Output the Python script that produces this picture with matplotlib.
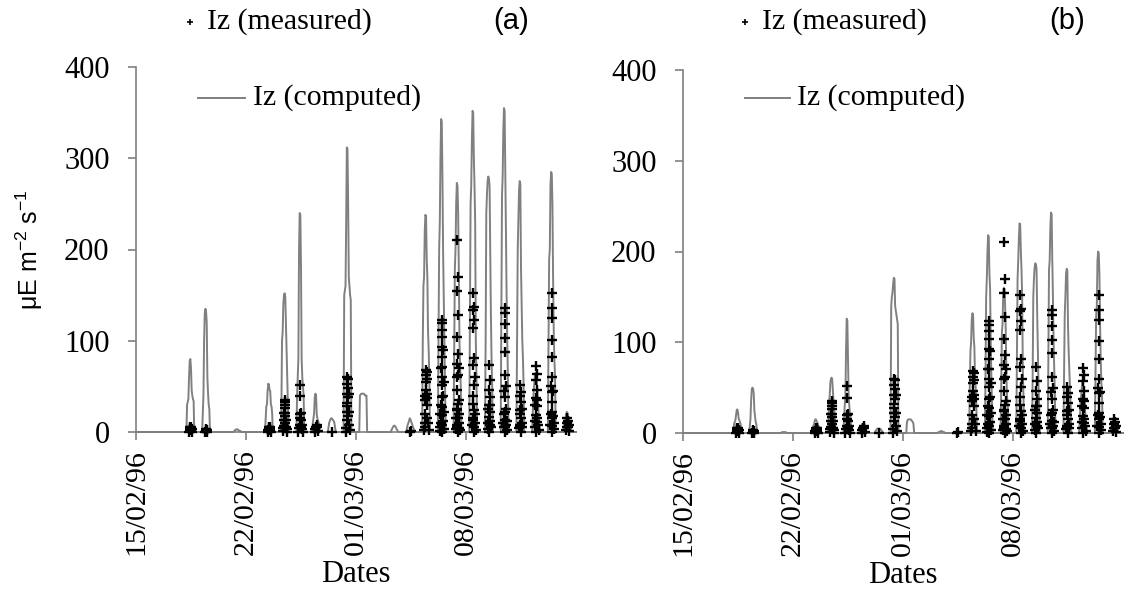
import matplotlib
matplotlib.use("Agg")
import matplotlib.pyplot as plt
from matplotlib.lines import Line2D

# ---------------- data ----------------
# x axis: days since 15/02/96 ; tick labels as printed
tick_days = [0, 7, 14, 21]
tick_labels = ["15/02/96", "22/02/96", "01/03/96", "08/03/96"]
y_ticks = [0, 100, 200, 300, 400]

# computed Iz: hourly values (05h..17h) for each day with daylight signal
comp_hours = [5, 6, 7, 8, 9, 10, 11, 12, 13, 14, 15, 16, 17]
comp_days = [3, 4, 6, 8, 9, 10, 11, 12, 13, 14, 16, 17, 18, 19, 20, 21, 22, 23, 24, 25, 26, 27]
comp_a = [
    [0, 30, 33, 36, 60, 78, 80, 70, 46, 40, 36, 34, 0],
    [0, 20, 40, 100, 130, 135, 132, 120, 60, 43, 30, 25, 0],
    [0, 1, 2, 2, 3, 3, 3, 2, 2, 1, 1, 1, 0],
    [0, 15, 28, 30, 45, 53, 52, 46, 45, 30, 28, 20, 0],
    [0, 20, 100, 110, 140, 150, 152, 148, 120, 90, 60, 30, 0],
    [0, 40, 60, 80, 200, 240, 238, 180, 80, 60, 50, 40, 0],
    [0, 10, 15, 20, 38, 42, 40, 20, 15, 12, 10, 8, 0],
    [0, 5, 10, 12, 14, 15, 15, 14, 13, 12, 10, 5, 0],
    [0, 150, 155, 160, 230, 312, 310, 250, 170, 160, 150, 145, 0],
    [0, 40, 41, 42, 42, 42, 42, 42, 41, 40, 40, 40, 0],
    [0, 2, 3, 5, 6, 7, 7, 6, 5, 3, 2, 1, 0],
    [0, 5, 8, 10, 12, 15, 14, 12, 10, 8, 5, 4, 0],
    [0, 100, 160, 170, 220, 238, 236, 190, 170, 110, 90, 60, 0],
    [0, 100, 200, 230, 300, 343, 340, 280, 200, 150, 100, 50, 0],
    [0, 90, 180, 200, 250, 273, 270, 240, 180, 100, 70, 50, 0],
    [0, 120, 250, 270, 320, 352, 350, 300, 270, 230, 100, 60, 0],
    [0, 100, 240, 260, 275, 280, 278, 270, 200, 130, 80, 50, 0],
    [0, 120, 260, 280, 330, 355, 352, 280, 220, 150, 100, 60, 0],
    [0, 100, 200, 230, 265, 275, 272, 180, 140, 100, 80, 50, 0],
    [0, 20, 40, 50, 60, 65, 62, 55, 45, 30, 20, 10, 0],
    [0, 100, 190, 200, 270, 285, 283, 250, 170, 110, 80, 60, 0],
    [0, 8, 12, 16, 20, 22, 21, 18, 14, 10, 8, 5, 0],
]
comp_b = [
    [0, 10, 12, 14, 20, 25, 26, 23, 16, 14, 12, 10, 0],
    [0, 8, 15, 35, 48, 50, 49, 44, 25, 18, 12, 10, 0],
    [0, 0, 1, 1, 1, 1, 1, 1, 1, 0, 0, 0, 0],
    [0, 4, 8, 9, 13, 15, 15, 13, 12, 9, 8, 6, 0],
    [0, 8, 35, 40, 55, 60, 61, 58, 45, 35, 25, 12, 0],
    [0, 15, 30, 40, 90, 126, 124, 80, 40, 30, 20, 15, 0],
    [0, 3, 4, 5, 9, 10, 10, 6, 4, 3, 3, 2, 0],
    [0, 2, 3, 4, 5, 5, 5, 5, 4, 4, 3, 2, 0],
    [0, 140, 150, 155, 165, 171, 170, 140, 135, 130, 125, 120, 0],
    [0, 12, 14, 15, 15, 15, 15, 15, 14, 13, 12, 10, 0],
    [0, 1, 1, 1, 2, 2, 2, 2, 1, 1, 1, 0, 0],
    [0, 0, 0, 0, 0.5, 0.5, 0.5, 0.5, 0, 0, 0, 0, 0],
    [0, 50, 90, 100, 125, 132, 130, 105, 95, 60, 50, 30, 0],
    [0, 60, 150, 170, 200, 218, 216, 175, 160, 100, 60, 30, 0],
    [0, 50, 110, 120, 150, 160, 158, 140, 110, 60, 40, 30, 0],
    [0, 80, 170, 190, 215, 231, 229, 200, 180, 150, 70, 40, 0],
    [0, 60, 150, 170, 182, 187, 186, 180, 130, 90, 50, 30, 0],
    [0, 80, 180, 190, 225, 243, 241, 190, 150, 100, 70, 40, 0],
    [0, 60, 130, 150, 175, 181, 179, 120, 90, 70, 50, 30, 0],
    [0, 15, 30, 40, 50, 55, 53, 46, 38, 25, 16, 8, 0],
    [0, 70, 130, 140, 190, 200, 198, 175, 120, 80, 55, 40, 0],
    [0, 6, 9, 12, 14, 16, 15, 13, 10, 7, 6, 4, 0],
]

# measured Iz (same in both panels): per day, hours and values
meas_days = [3, 4, 8, 9, 10, 11, 12, 13, 17, 18, 19, 20, 21, 22, 23, 24, 25, 26, 27]
meas_hours = [
    [9, 10, 10, 11, 11, 12, 12, 13, 14],
    [10, 11, 11, 12, 13],
    [9, 10, 11, 11, 12, 12, 13, 14],
    [8, 9, 10, 10, 10, 11, 11, 11, 11, 12, 12, 12, 13, 13, 14, 15],
    [8, 9, 10, 10, 11, 11, 11, 12, 12, 12, 13, 14, 15],
    [9, 10, 11, 12, 13, 14],
    [11],
    [8, 9, 10, 10, 10, 11, 11, 11, 11, 12, 12, 12, 12, 13, 13, 14, 15],
    [10, 12],
    [8, 9, 9, 10, 10, 10, 11, 11, 11, 11, 12, 12, 12, 12, 13, 13, 14, 15],
    [8, 9, 9, 10, 10, 10, 11, 11, 11, 11, 11, 11, 11, 12, 12, 12, 12, 12, 12, 12, 13, 13, 13, 14, 14, 15],
    [9, 9, 10, 10, 10, 11, 11, 11, 11, 11, 11, 11, 12, 12, 12, 12, 12, 12, 12, 13, 13, 13, 14, 14, 15],
    [9, 10, 10, 11, 11, 11, 11, 11, 11, 12, 12, 12, 12, 12, 12, 12, 13, 13, 14, 15],
    [9, 10, 10, 11, 11, 11, 11, 11, 12, 12, 12, 12, 13, 13, 14],
    [9, 10, 10, 10, 11, 11, 11, 11, 11, 11, 12, 12, 12, 12, 12, 13, 13, 13, 14, 15],
    [9, 10, 10, 11, 11, 11, 11, 12, 12, 12, 12, 13, 13, 14],
    [9, 10, 10, 11, 11, 11, 11, 11, 12, 12, 12, 12, 13, 13, 14, 15],
    [9, 10, 10, 11, 11, 11, 11, 11, 11, 12, 12, 12, 12, 12, 12, 13, 13, 14, 15],
    [9, 10, 11, 11, 12, 12, 13, 14],
]
meas_vals = [
    [0, 2, 4, 5, 3, 5, 2, 3, 0],
    [0, 2, 3, 2, 0],
    [0, 2, 4, 5, 3, 5, 2, 0],
    [1, 4, 7, 13, 21, 26, 33, 35, 18, 30, 21, 10, 13, 6, 3, 0],
    [0, 4, 8, 15, 39, 52, 20, 13, 21, 6, 8, 3, 0],
    [0, 3, 6, 8, 5, 1],
    [0],
    [0, 4, 13, 22, 32, 42, 53, 60, 28, 58, 48, 38, 18, 42, 8, 22, 2],
    [0, 1],
    [2, 5, 10, 20, 35, 40, 46, 55, 62, 68, 66, 58, 42, 30, 37, 15, 10, 2],
    [1, 5, 20, 10, 30, 70, 123, 112, 93, 71, 51, 27, 8, 119, 104, 82, 60, 38, 19, 0, 90, 40, 12, 55, 22, 3],
    [15, 3, 60, 25, 5, 210, 154, 104, 75, 46, 24, 8, 170, 128, 86, 62, 31, 15, 0, 70, 35, 10, 20, 4, 2],
    [8, 40, 15, 152, 134, 114, 73, 31, 13, 137, 123, 81, 51, 24, 5, 0, 60, 20, 10, 2],
    [3, 25, 10, 73, 46, 30, 16, 0, 57, 38, 22, 8, 30, 12, 5],
    [10, 45, 20, 6, 136, 118, 88, 38, 13, 0, 130, 103, 62, 22, 5, 50, 25, 8, 12, 2],
    [4, 20, 8, 51, 40, 24, 7, 44, 33, 15, 0, 25, 10, 5],
    [6, 30, 12, 72, 57, 37, 19, 0, 64, 46, 28, 11, 35, 15, 8, 2],
    [8, 50, 20, 152, 125, 82, 44, 22, 7, 136, 101, 60, 33, 15, 0, 45, 18, 10, 3],
    [2, 6, 10, 15, 12, 5, 8, 1],
]

# ---------------- styling ----------------
W, H = 1129, 610
SERIF = ["Liberation Serif", "DejaVu Serif"]
SANS = ["Liberation Sans", "DejaVu Sans"]
GRAY = "#808080"

fig = plt.figure(figsize=(W / 100, H / 100), dpi=100)


def build_comp(vals):
    t, y = [0.0], [0.0]
    for d, vs in zip(comp_days, vals):
        for h, v in zip(comp_hours, vs):
            t.append(d + h / 24.0)
            y.append(v)
    t.append(28.0)
    y.append(0.0)
    return t, y


mt, mv = [], []
for d, hs, vs in zip(meas_days, meas_hours, meas_vals):
    for h, v in zip(hs, vs):
        mt.append(d + h / 24.0)
        mv.append(v)

panels = [
    dict(rect=[136 / W, 1 - 432 / H, 440 / W, 365 / H], comp=comp_a, tag="(a)",
         plus_x=190, text_x=207, line_x=(198, 245), ctext_x=253, tag_x=511, ylabel=True),
    dict(rect=[683 / W, 1 - 433 / H, 440 / W, 363 / H], comp=comp_b, tag="(b)",
         plus_x=745, text_x=762, line_x=(745, 790), ctext_x=797, tag_x=1067, ylabel=False),
]

for p in panels:
    ax = fig.add_axes(p["rect"])
    t, y = build_comp(p["comp"])
    ax.plot(t, y, color=GRAY, lw=1.4, zorder=2, clip_on=False)
    ax.plot(mt, mv, linestyle="none", marker="+", color="black",
            markersize=7, mew=1.7, zorder=3, clip_on=False)
    ax.set_xlim(0, 28)
    ax.set_ylim(0, 400)
    for s in ["top", "right"]:
        ax.spines[s].set_visible(False)
    for s in ["left", "bottom"]:
        ax.spines[s].set_color(GRAY)
        ax.spines[s].set_linewidth(1.2)
    ax.set_yticks(y_ticks)
    ax.set_yticklabels([str(v) for v in y_ticks], fontfamily=SERIF, fontsize=22)
    ax.set_xticks(tick_days)
    ax.set_xticklabels(tick_labels, rotation=90, fontfamily=SERIF, fontsize=21.5)
    ax.tick_params(axis="both", direction="out", length=6, width=1.2, color=GRAY)
    ax.tick_params(axis="y", pad=13)
    ax.tick_params(axis="x", pad=6)
    ax.set_xlabel("Dates", fontfamily=SERIF, fontsize=22, labelpad=4)
    if p["ylabel"]:
        ax.set_ylabel("μE m$^{\\mathregular{-2}}$ s$^{\\mathregular{-1}}$",
                      fontfamily=SANS, fontsize=18, labelpad=14)

    # legend-like annotations
    fig.add_artist(Line2D([p["plus_x"] / W], [1 - 22 / H], marker="+", color="black",
                          markersize=5, mew=1.2, linestyle="none"))
    fig.text(p["text_x"] / W, 1 - 22 / H, "Iz (measured)", fontfamily=SERIF,
             fontsize=21.5, va="center", ha="left")
    fig.add_artist(Line2D([p["line_x"][0] / W, p["line_x"][1] / W], [1 - 98 / H, 1 - 98 / H],
                          color=GRAY, lw=1.4))
    fig.text(p["ctext_x"] / W, 1 - 98 / H, "Iz (computed)", fontfamily=SERIF,
             fontsize=21.5, va="center", ha="left")
    fig.text(p["tag_x"] / W, 1 - 21 / H, p["tag"], fontfamily=SANS,
             fontsize=21, va="center", ha="center")

fig.savefig("out.png", dpi=100)
